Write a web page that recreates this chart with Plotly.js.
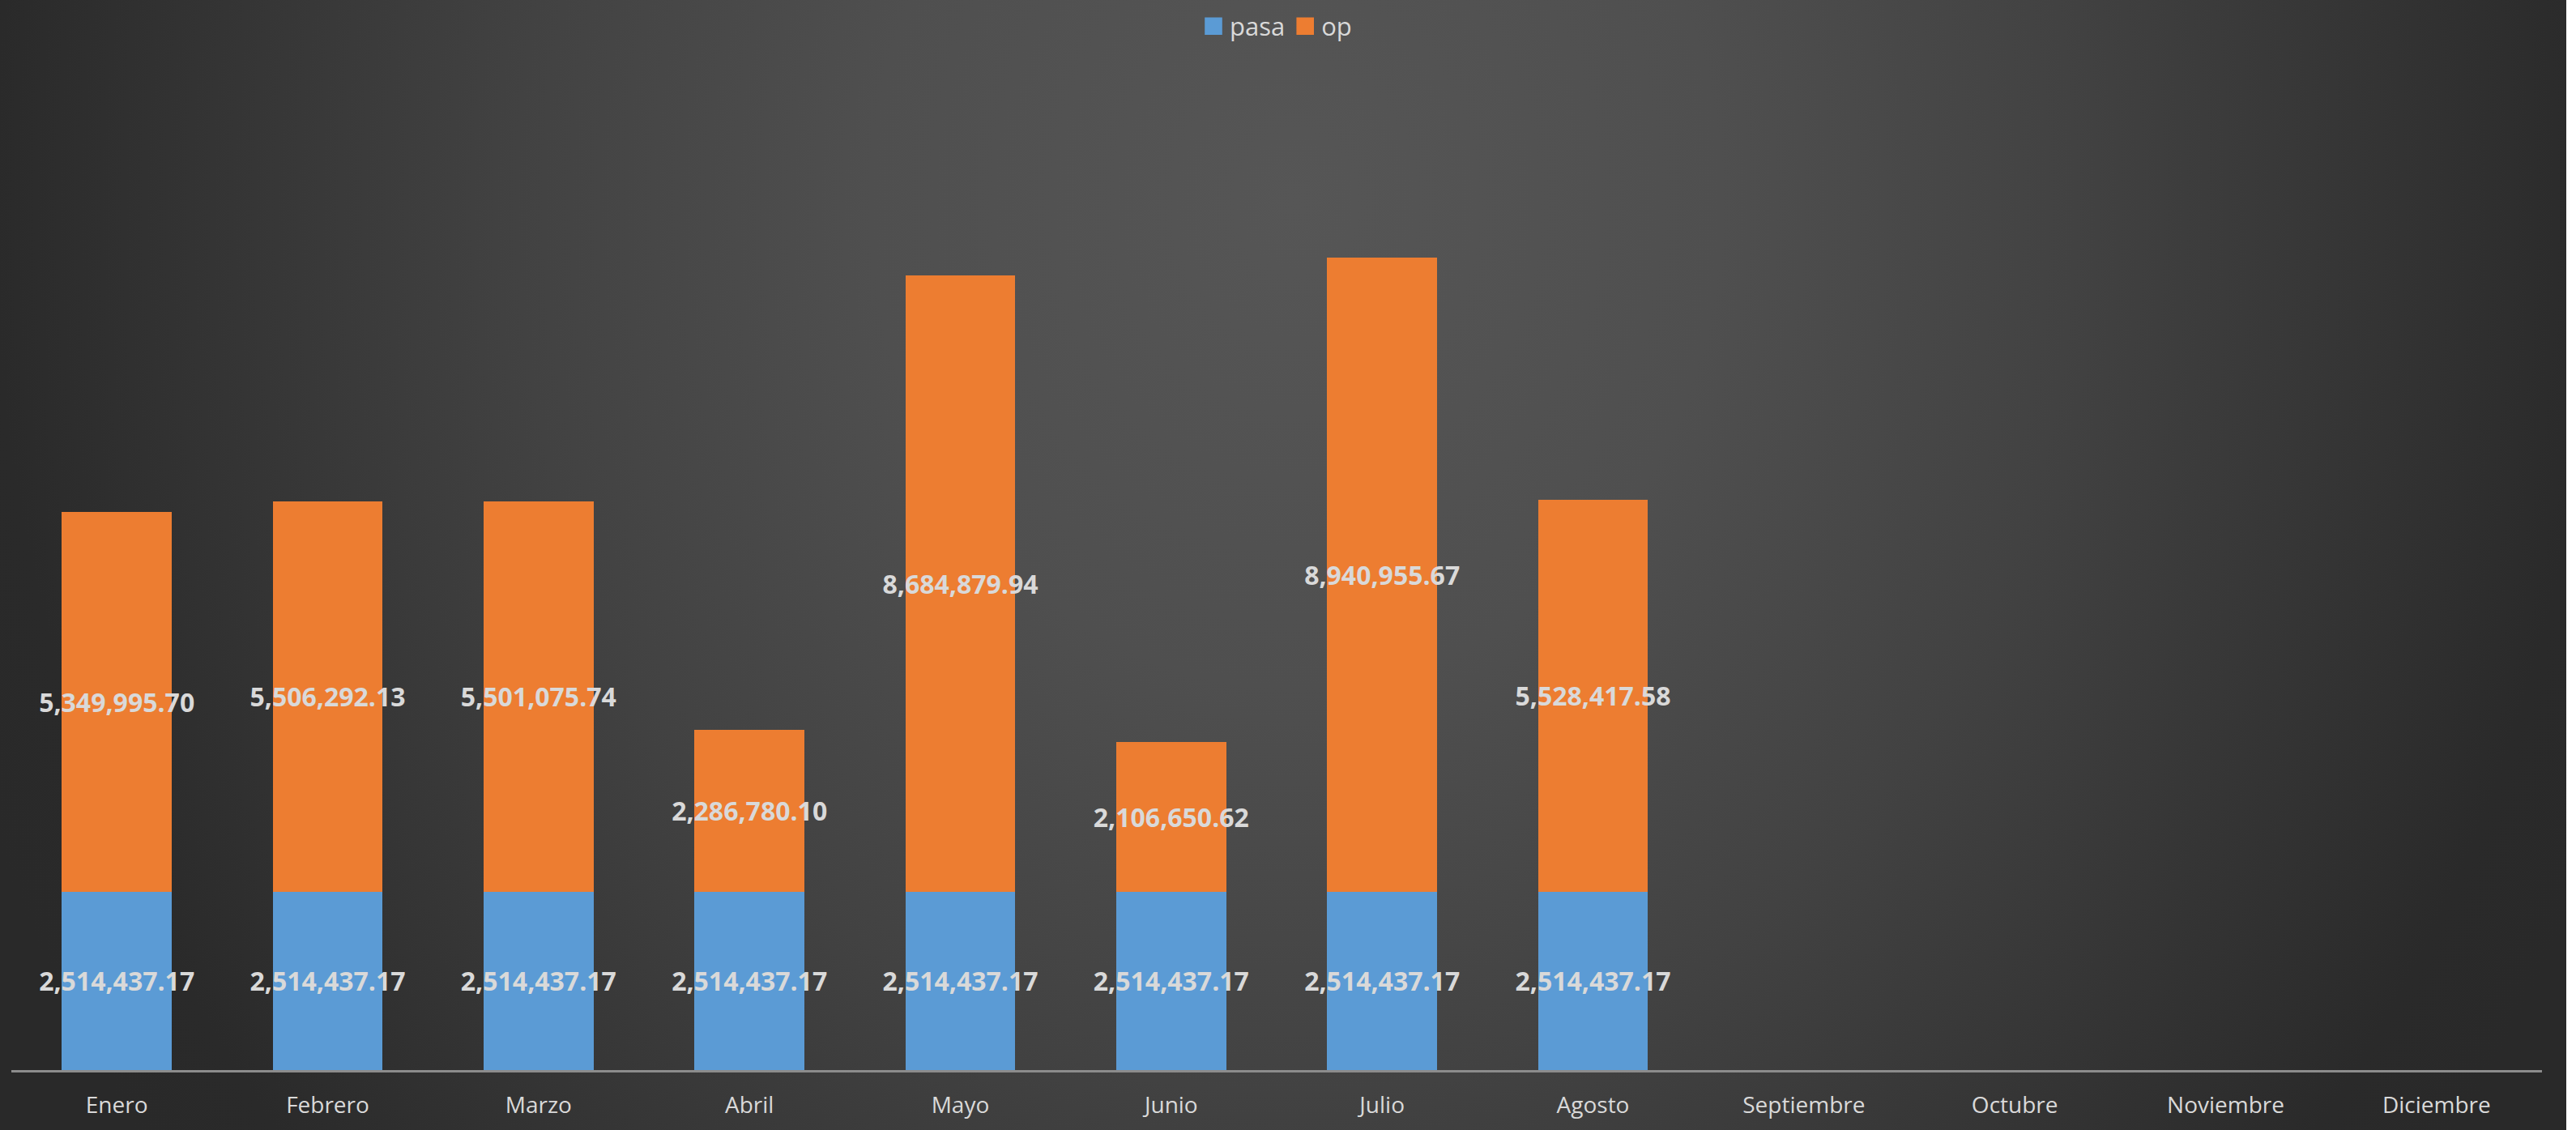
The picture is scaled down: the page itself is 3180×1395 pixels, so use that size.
<!DOCTYPE html>
<html>
<head>
<meta charset="utf-8">
<script src="https://cdn.plot.ly/plotly-3.0.1.min.js"></script>
<style>
  html, body { margin: 0; padding: 0; background: #ffffff; }
  #chart {
    width: 3168px; height: 1395px;
    background: radial-gradient(1750px 2000px at 1600px 250px, #565656 0%, #4f4f4f 30%, #424242 55%, #353535 75%, #2a2a2a 92%, #292929 100%);
  }
</style>
</head>
<body>
<div id="chart"></div>
<script>
const months = ["Enero","Febrero","Marzo","Abril","Mayo","Junio","Julio","Agosto","Septiembre","Octubre","Noviembre","Diciembre"];
const pasa = [2514437.17, 2514437.17, 2514437.17, 2514437.17, 2514437.17, 2514437.17, 2514437.17, 2514437.17, null, null, null, null];
const op = [5349995.70, 5506292.13, 5501075.74, 2286780.10, 8684879.94, 2106650.62, 8940955.67, 5528417.58, null, null, null, null];

function fmt(v) {
  if (v === null) return "";
  return v.toLocaleString("en-US", {minimumFractionDigits: 2, maximumFractionDigits: 2});
}

const labelFont = {family: "Open Sans, sans-serif", size: 32, color: "#d9d9d9", weight: 700};

const traces = [
  {
    type: "bar", name: "pasa", x: months, y: pasa,
    text: pasa.map(fmt), textposition: "inside", insidetextanchor: "middle",
    textangle: 0, constraintext: "none", cliponaxis: false,
    textfont: labelFont, insidetextfont: labelFont,
    marker: {color: "#5b9bd5", line: {width: 0}},
    hoverinfo: "skip"
  },
  {
    type: "bar", name: "op", x: months, y: op,
    text: op.map(fmt), textposition: "inside", insidetextanchor: "middle",
    textangle: 0, constraintext: "none", cliponaxis: false,
    textfont: labelFont, insidetextfont: labelFont,
    marker: {color: "#ed7d31", line: {width: 0}},
    hoverinfo: "skip"
  }
];

const layout = {
  width: 3168, height: 1395,
  paper_bgcolor: "rgba(0,0,0,0)",
  plot_bgcolor: "rgba(0,0,0,0)",
  barmode: "stack",
  bargap: 0.48,
  margin: {l: 14, r: 30, t: 102, b: 74, pad: 0},
  font: {family: "Open Sans, sans-serif", color: "#d9d9d9"},
  showlegend: true,
  legend: {
    orientation: "h", x: 0.5, xanchor: "center",
    yref: "container", y: 0.996, yanchor: "top",
    font: {size: 31, color: "#d9d9d9"},
    bgcolor: "rgba(0,0,0,0)", traceorder: "normal"
  },
  xaxis: {
    type: "category",
    showline: true, linecolor: "#8c8c8c", linewidth: 3,
    showgrid: false, zeroline: false, ticks: "",
    tickfont: {size: 28, color: "#d9d9d9"},
    ticklabelstandoff: 16,
    fixedrange: true
  },
  yaxis: {
    visible: false, range: [0, 13920000],
    showgrid: false, zeroline: false, fixedrange: true
  },
  hovermode: false
};

Plotly.newPlot("chart", traces, layout, {displayModeBar: false, staticPlot: true}).then(function () {
  document.querySelectorAll(".legendpoints path").forEach(function (p) {
    var t = p.getAttribute("transform") || "";
    p.setAttribute("transform", t + " scale(1.8)");
    p.removeAttribute("clip-path");
  });
});
</script>
</body>
</html>
